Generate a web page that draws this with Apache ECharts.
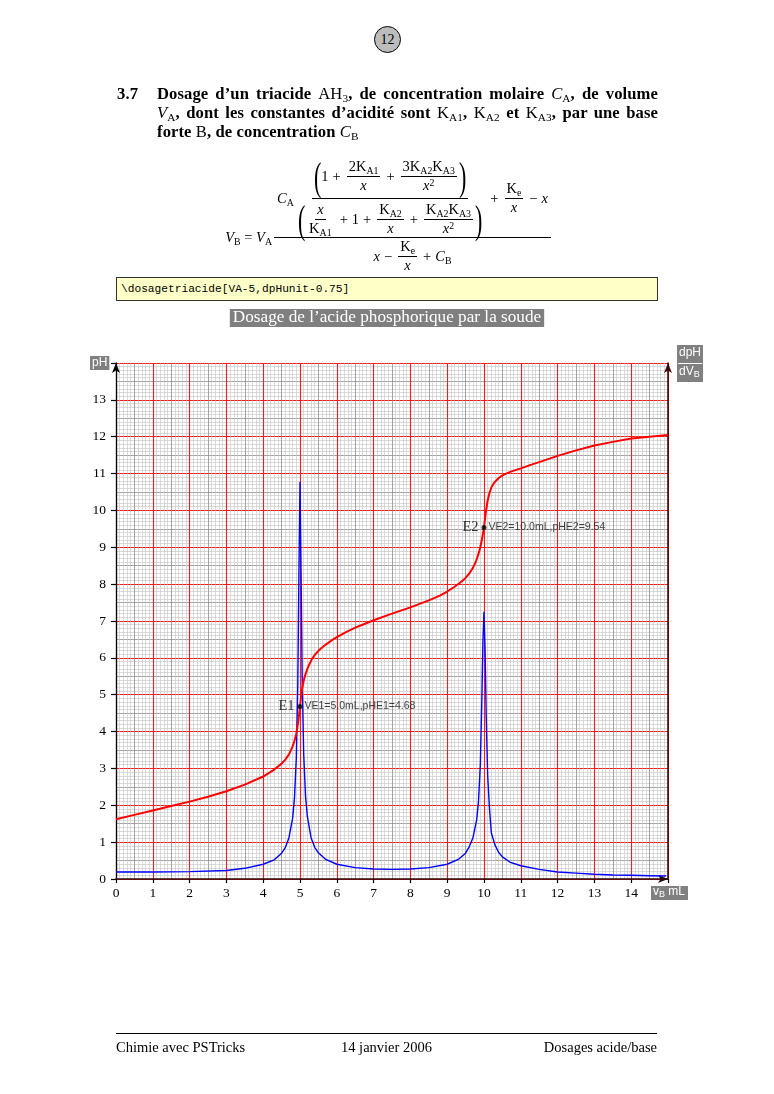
<!DOCTYPE html>
<html>
<head>
<meta charset="utf-8">
<script src="https://cdn.jsdelivr.net/npm/echarts@6/dist/echarts.min.js"></script>
<style>
  html, body { margin:0; padding:0; background:#fff; }
  body { width:774px; height:1094px; position:relative; overflow:hidden; font-family:'Liberation Serif', serif; color:#000; }
  #chart { position:absolute; left:0; top:0; width:774px; height:1094px; z-index:0; }
  .ov { position:absolute; z-index:1; }
  sub { font-size:68%; vertical-align:-0.28em; line-height:0; }
  sup { font-size:68%; vertical-align:0.45em; line-height:0; }
  #pg { left:374px; top:26px; width:25px; height:25px; border:1.3px solid #000; border-radius:50%; background:#bcbcbc; text-align:center; line-height:25px; font-size:14px; }
  #hd { left:117px; top:84px; width:541px; font-weight:bold; font-size:16.6px; line-height:19px; letter-spacing:0.1px; }
  #hd .no { position:absolute; left:0; top:0; }
  #hd .txt { margin-left:40px; text-align:justify; }
  #hd .m { font-weight:normal; }
  .f { font-size:14.5px; white-space:nowrap; }
  .frac { display:inline-flex; flex-direction:column; align-items:center; vertical-align:middle; margin:0 2px; }
  .frac > span { display:block; text-align:center; white-space:nowrap; line-height:1.1; }
  .frac > .n { border-bottom:1px solid #000; padding:0 2px 1px; }
  .frac > .d { padding:1px 2px 0; }
  .row { display:flex; align-items:center; justify-content:center; white-space:nowrap; }
  .big { display:inline-block; font-size:40px; line-height:1; transform:scaleX(0.55); vertical-align:middle; margin:0 -3px; font-weight:300; }
  .op { margin:0 4px; }
  #code { left:116px; top:277px; width:542px; height:24px; box-sizing:border-box; background:#ffffc8; border:1.2px solid #333; font-family:'Liberation Mono', monospace; font-size:11.2px; line-height:22px; padding-left:4px; }
  #foot { left:116px; top:1033px; width:541px; border-top:1.3px solid #000; font-size:14.5px; }
  #foot span { position:absolute; top:5px; white-space:nowrap; }
</style>
</head>
<body>
<div id="chart"></div>

<div id="pg" class="ov">12</div>

<div id="hd" class="ov"><span class="no">3.7</span><div class="txt">Dosage d’un triacide <span class="m">AH<sub>3</sub></span>, de concentration molaire <span class="m"><i>C</i><sub>A</sub></span>, de volume <span class="m"><i>V</i><sub>A</sub></span>, dont les constantes d’acidité sont <span class="m">K<sub>A1</sub></span>, <span class="m">K<sub>A2</sub></span> et <span class="m">K<sub>A3</sub></span>, par une base forte <span class="m">B</span>, de concentration <span class="m"><i>C</i><sub>B</sub></span></div></div>

<!-- formula -->
<div class="ov f" style="left:150px; width:122px; top:227px; height:20px; line-height:20px; text-align:right;"><i>V</i><sub>B</sub> = <i>V</i><sub>A</sub></div>
<div class="ov" style="left:274px; top:236.5px; width:277px; height:1px; background:#000;"></div>
<div class="ov f row" style="left:274px; top:158px; width:277px; height:80px;">
  <span><i>C</i><sub>A</sub></span>
  <span class="frac">
    <span class="n" style="display:flex;align-items:center;justify-content:center;">
      <span class="big">(</span><span>1<span class="op">+</span></span><span class="frac"><span class="n">2K<sub>A1</sub></span><span class="d"><i>x</i></span></span><span class="op">+</span><span class="frac"><span class="n">3K<sub>A2</sub>K<sub>A3</sub></span><span class="d"><i>x</i><sup>2</sup></span></span><span class="big">)</span>
    </span>
    <span class="d" style="display:flex;align-items:center;justify-content:center;">
      <span class="big">(</span><span class="frac"><span class="n"><i>x</i></span><span class="d">K<sub>A1</sub></span></span><span><span class="op">+</span>1<span class="op">+</span></span><span class="frac"><span class="n">K<sub>A2</sub></span><span class="d"><i>x</i></span></span><span class="op">+</span><span class="frac"><span class="n">K<sub>A2</sub>K<sub>A3</sub></span><span class="d"><i>x</i><sup>2</sup></span></span><span class="big">)</span>
    </span>
  </span>
  <span class="op">+</span><span class="frac"><span class="n">K<sub>e</sub></span><span class="d"><i>x</i></span></span><span class="op">−</span><span><i>x</i></span>
</div>
<div class="ov f row" style="left:274px; top:236px; width:277px; height:40px;">
  <span><i>x</i></span><span class="op">−</span><span class="frac"><span class="n">K<sub>e</sub></span><span class="d"><i>x</i></span></span><span class="op">+</span><span><i>C</i><sub>B</sub></span>
</div>

<div id="code" class="ov">\dosagetriacide[VA-5,dpHunit-0.75]</div>

<div id="foot" class="ov">
  <span style="left:0;">Chimie avec PSTricks</span>
  <span style="left:0; width:541px; text-align:center;">14 janvier 2006</span>
  <span style="right:0;">Dosages acide/base</span>
</div>

<script>
// ---- data ----
const chartTitle = 'Dosage de l’acide phosphorique par la soude';
const xTickLabels = ['0','1','2','3','4','5','6','7','8','9','10','11','12','13','14'];
const yTickLabels = ['0','1','2','3','4','5','6','7','8','9','10','11','12','13'];
// pH versus added volume vB (mL)
const pHPoints = [
  [0,1.62],[0.5,1.74],[1,1.86],[1.5,1.98],[2,2.1],[2.5,2.23],[3,2.38],[3.5,2.56],[4,2.78],
  [4.3,2.97],[4.5,3.13],[4.6,3.24],[4.7,3.38],[4.8,3.6],[4.85,3.75],[4.9,3.95],[4.95,4.25],
  [5,4.68],[5.03,4.95],[5.06,5.17],[5.1,5.38],[5.15,5.56],[5.2,5.7],[5.26,5.84],[5.33,5.98],
  [5.42,6.1],[5.5,6.19],[5.6,6.28],[5.7,6.36],[5.87,6.48],[6,6.56],[6.25,6.7],[6.5,6.82],
  [6.75,6.92],[7,7.02],[7.5,7.2],[8,7.37],[8.5,7.56],[8.8,7.69],[9,7.8],[9.2,7.93],[9.4,8.08],
  [9.5,8.17],[9.6,8.29],[9.7,8.44],[9.79,8.64],[9.85,8.82],[9.9,9.0],[9.95,9.25],[10,9.54],
  [10.03,9.8],[10.06,10.02],[10.1,10.27],[10.15,10.48],[10.2,10.62],[10.25,10.71],
  [10.3,10.78],[10.4,10.88],[10.5,10.95],[10.6,11.0],[10.75,11.06],[11,11.14],[11.25,11.23],
  [11.5,11.31],[12,11.48],[12.5,11.63],[13,11.76],[13.5,11.86],[14,11.95],[14.5,12.0],[15,12.05]
];
// derivative dpH/dVB (same vertical scale)
const dpHPoints = [
  [0,0.19],[1,0.19],[2,0.2],[3,0.23],[3.5,0.29],[4,0.4],[4.3,0.52],[4.5,0.7],[4.6,0.85],
  [4.7,1.12],[4.8,1.65],[4.85,2.2],[4.9,3.3],[4.94,5.3],[4.97,8.2],[5,10.78],[5.03,8.2],
  [5.06,5.4],[5.1,3.4],[5.15,2.25],[5.2,1.7],[5.3,1.12],[5.4,0.86],[5.5,0.71],[5.7,0.53],
  [6,0.4],[6.5,0.31],[7,0.27],[7.5,0.26],[8,0.27],[8.5,0.31],[9,0.4],[9.3,0.53],[9.5,0.7],
  [9.6,0.88],[9.7,1.12],[9.8,1.6],[9.85,2.1],[9.9,3.1],[9.94,4.8],[9.97,6.4],[10,7.25],
  [10.03,6.2],[10.06,4.4],[10.1,2.8],[10.15,1.9],[10.2,1.25],[10.3,0.92],[10.4,0.72],
  [10.5,0.6],[10.7,0.46],[11,0.36],[11.5,0.26],[12,0.19],[12.5,0.16],[13,0.13],[13.5,0.11],
  [14,0.1],[14.5,0.09],[14.95,0.08]
];
const eqPoints = [[5,4.68],[10,9.54]];
const eqNames = ['E1','E2'];
const eqTexts = ['VE1=5.0mL,pHE1=4.68','VE2=10.0mL,pHE2=9.54'];

const chart = echarts.init(document.getElementById('chart'), null, {renderer:'canvas'});
const serif = 'Liberation Serif';
const sans = 'Liberation Sans';
const gridSub = (max) => ({
  type:'value', min:0, max:max, interval:0.5,
  axisLine:{show:false}, axisTick:{show:false}, axisLabel:{show:false},
  splitLine:{show:true, lineStyle:{color:'#8e8e8e', width:0.8}},
  minorTick:{show:false, splitNumber:5},
  minorSplitLine:{show:true, lineStyle:{color:'#c2c2c2', width:0.6}}
});
chart.setOption({
  animation:false,
  title:{
    text:chartTitle, left:'center', top:309,
    backgroundColor:'#7f7f7f', padding:[0,3,1,3],
    textStyle:{color:'#fff', fontFamily:serif, fontSize:17.2, fontWeight:'normal', lineHeight:17}
  },
  grid:{left:116, top:363, width:552, height:516, containLabel:false},
  xAxis:[
    gridSub(15),
    {
      type:'value', min:0, max:15, interval:1, position:'bottom',
      axisLine:{show:true, onZero:false, symbol:['none','arrow'], symbolSize:[6,10], lineStyle:{color:'#2a0808', width:1.6}},
      axisTick:{show:true, length:4, lineStyle:{color:'#000', width:1.2}},
      axisLabel:{color:'#000', fontFamily:serif, fontSize:13.5, margin:7,
        formatter:(v)=> xTickLabels[Math.round(v)] !== undefined ? xTickLabels[Math.round(v)] : ''},
      splitLine:{show:true, lineStyle:{color:'#ff1a1a', width:1.1}}
    }
  ],
  yAxis:[
    gridSub(14),
    {
      type:'value', min:0, max:14, interval:1, position:'left',
      axisLine:{show:true, onZero:false, symbol:['none','arrow'], symbolSize:[6,10], lineStyle:{color:'#000', width:1.3}},
      axisTick:{show:true, length:5, lineStyle:{color:'#000', width:1.2}},
      axisLabel:{color:'#000', fontFamily:serif, fontSize:13.5, margin:10,
        formatter:(v)=> yTickLabels[Math.round(v)] !== undefined ? yTickLabels[Math.round(v)] : ''},
      splitLine:{show:true, lineStyle:{color:'#ff1a1a', width:1.1}}
    },
    {
      type:'value', min:0, max:14, interval:1, position:'right',
      axisLine:{show:true, onZero:false, symbol:['none','arrow'], symbolSize:[6,10], lineStyle:{color:'#3a0a0a', width:1.6}},
      axisTick:{show:false}, axisLabel:{show:false}, splitLine:{show:false}
    }
  ],
  series:[
    {type:'line', xAxisIndex:1, yAxisIndex:1, data:dpHPoints, showSymbol:false, smooth:false,
      lineStyle:{color:'#0000ff', width:1.4}, z:3},
    {type:'line', xAxisIndex:1, yAxisIndex:1, data:pHPoints, showSymbol:false, smooth:false,
      lineStyle:{color:'#ff0000', width:2, join:'round'}, z:4},
    {type:'scatter', xAxisIndex:1, yAxisIndex:1, data:eqPoints, symbolSize:5,
      itemStyle:{color:'#000'}, z:6,
      label:{show:true, position:'right', distance:2, color:'#111', fontFamily:sans, fontSize:10.5,
        formatter:(p)=>eqTexts[p.dataIndex]}},
    {type:'scatter', xAxisIndex:1, yAxisIndex:1, data:eqPoints, symbolSize:1,
      itemStyle:{color:'rgba(0,0,0,0)'}, z:6,
      label:{show:true, position:'left', distance:5, color:'#000', fontFamily:serif, fontSize:14.5,
        formatter:(p)=>eqNames[p.dataIndex]}}
  ],
  graphic:[
    {type:'text', left:90, top:356, z:10,
      style:{text:'pH', fill:'#fff', backgroundColor:'#808080', padding:[1,2,1,2], font:'12px "Liberation Sans"'}},
    {type:'rect', left:677, top:345, z:10, shape:{width:26, height:37}, style:{fill:'#808080'}},
    {type:'line', z:11, shape:{x1:678, y1:363.5, x2:702, y2:363.5}, style:{stroke:'#fff', lineWidth:1}},
    {type:'text', left:679, top:347, z:12, style:{text:'dpH', fill:'#fff', font:'12px "Liberation Sans"'}},
    {type:'text', left:679, top:366, z:12,
      style:{text:'dV{s|B}', fill:'#fff', font:'12px "Liberation Sans"',
        rich:{s:{fontSize:9, fill:'#fff', fontFamily:sans, padding:[5,0,0,0]}}}},
    {type:'rect', left:651, top:886, z:10, shape:{width:37, height:14}, style:{fill:'#808080'}},
    {type:'text', left:653, top:886, z:12,
      style:{text:'v{s|B} mL', fill:'#fff', font:'12px "Liberation Sans"',
        rich:{s:{fontSize:9, fill:'#fff', fontFamily:sans, padding:[5,0,0,0]}}}}
  ]
});
</script>
</body>
</html>
